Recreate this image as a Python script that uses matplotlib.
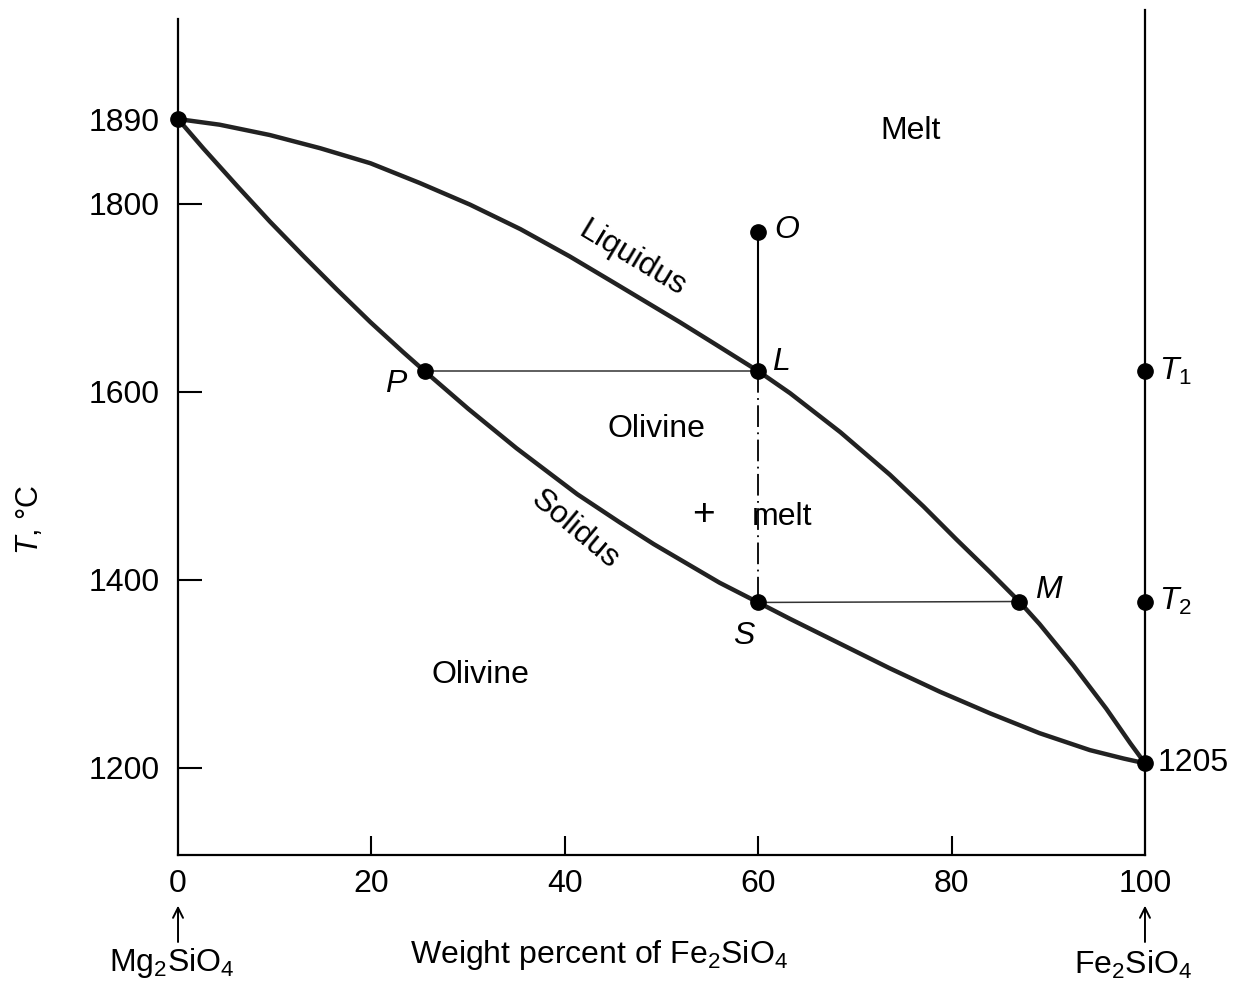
import numpy as np
from matplotlib import pyplot as plt

plt.rcParams['font.family'] = ['Liberation Sans', 'DejaVu Sans']
plt.rcParams['mathtext.fontset'] = 'custom'
plt.rcParams['mathtext.rm'] = 'Liberation Sans'
plt.rcParams['mathtext.it'] = 'Liberation Sans:italic'

# liquidus and solidus (wt% Fe2SiO4, T in C)
liq_x = [0, 4.3, 9.5, 14.7, 19.9, 25.0, 30.2, 35.4, 40.5, 45.0, 51.9, 55.5, 60,
         63.3, 68.5, 73.6, 77.1, 80.5, 84.0, 87.0, 89.1, 92.6, 96.0, 98.5, 100]
liq_t = [1890, 1884, 1873, 1859, 1843, 1822, 1799, 1773, 1744, 1716.5, 1674, 1651, 1622,
         1598.5, 1557, 1512, 1478, 1443, 1408, 1377, 1353, 1309, 1263, 1226, 1205]
sol_x = [0, 2.6, 6.1, 9.5, 13.0, 16.4, 19.9, 23.3, 25.5, 30.0, 35.0, 41.3, 45.7,
         49.2, 52.6, 56.0, 60, 63.3, 68.5, 73.6, 78.8, 84.0, 89.1, 94.3, 97.8, 100]
sol_t = [1890, 1859, 1819, 1781, 1744, 1709, 1674, 1642, 1622, 1582, 1540, 1491, 1461,
         1438, 1417.5, 1397, 1376, 1358.5, 1332, 1306, 1281, 1258, 1237, 1219, 1210, 1205]

pt_names = ['P', 'L', 'O', 'S', 'M']
pt_x = [25.5, 60, 60, 60, 87]
pt_t = [1622, 1622, 1770, 1376, 1377]
end_t = [1890, 1205]
t1, t2 = 1622, 1377

yticks = [1200, 1400, 1600, 1800, 1890]
xticks = [0, 20, 40, 60, 80, 100]

fig = plt.figure(figsize=(12.44, 9.86), dpi=100)
ax = fig.add_axes([0.1431, 0.1329, 0.7773, 0.857])
ax.set_xlim(0, 100)
ax.set_ylim(1107.5, 2006)

ax.plot(liq_x, liq_t, color='#222222', lw=3.2, solid_joinstyle='round')
ax.plot(sol_x, sol_t, color='#222222', lw=3.2, solid_joinstyle='round')

P, L, O, S, M = [dict(zip(['x', 't'], v)) for v in zip(pt_x, pt_t)]
ax.plot([P['x'], L['x']], [P['t'], L['t']], color='#333333', lw=1.1)
ax.plot([S['x'], M['x']], [S['t'], M['t']], color='#333333', lw=1.1)
ax.plot([O['x'], L['x']], [O['t'], L['t']], color='black', lw=1.5)
ax.plot([L['x'], S['x']], [L['t'], S['t']], color='black', lw=1.3,
        linestyle=(0, (12, 3, 1, 3)))

ax.plot(pt_x, pt_t, 'o', color='black', ms=11, zorder=5)
ax.plot([0, 100], end_t, 'o', color='black', ms=11, zorder=5, clip_on=False)
ax.plot([100, 100], [t1, t2], 'o', color='black', ms=11, zorder=5, clip_on=False)

# labels
lab_off = {'P': (-3.0, -14), 'L': (2.3, 10), 'O': (3.0, 2), 'S': (-1.5, -36), 'M': (3.0, 12)}
for n, x, t in zip(pt_names, pt_x, pt_t):
    dx, dt = lab_off[n]
    ax.text(x + dx, t + dt, n, fontsize=23, style='italic', ha='center', va='center')

fs = 23
ax.text(75.8, 1877, 'Melt', fontsize=fs, ha='center', va='center')
ax.text(47.0, 1741, 'Liquidus', fontsize=fs, ha='center', va='center', rotation=-31)
ax.text(41.0, 1453, 'Solidus', fontsize=fs, ha='center', va='center', rotation=-40)
ax.text(49.5, 1560, 'Olivine', fontsize=fs, ha='center', va='center')
ax.text(54.3, 1469, '+', fontsize=28, ha='center', va='center')
ax.text(62.5, 1467, 'melt', fontsize=fs, ha='center', va='center')
ax.text(31.3, 1299, 'Olivine', fontsize=fs, ha='center', va='center')

ax.text(101.5, t1, '$T_1$', fontsize=fs, ha='left', va='center', clip_on=False)
ax.text(101.5, t2, '$T_2$', fontsize=fs, ha='left', va='center', clip_on=False)
ax.text(101.3, 1205, '1205', fontsize=fs, ha='left', va='center', clip_on=False)

# axes styling
ax.spines['top'].set_visible(False)
ax.spines['left'].set_bounds(1107.5, 1996)
for s in ['left', 'bottom', 'right']:
    ax.spines[s].set_linewidth(1.6)

ax.set_yticks(yticks)
ax.set_xticks(xticks)
ax.tick_params(axis='y', direction='in', length=17, width=1.5, labelsize=fs, pad=13)
ax.tick_params(axis='x', direction='in', length=14, width=1.5, labelsize=fs, pad=10)
ax.yaxis.get_major_ticks()[-1].tick1line.set_visible(False)
for tk in [ax.xaxis.get_major_ticks()[0], ax.xaxis.get_major_ticks()[-1]]:
    tk.tick1line.set_visible(False)

tr = ax.get_xaxis_transform()
for xa in [0, 100]:
    ax.annotate('', xy=(xa, -0.060), xytext=(xa, -0.103), xycoords=tr, textcoords=tr,
                arrowprops=dict(arrowstyle='->', lw=1.4, color='black',
                                mutation_scale=18, shrinkA=0, shrinkB=0))
ax.text(-0.6, -0.128, r'Mg$_2$SiO$_4$', fontsize=fs, ha='center', va='center', transform=tr)
ax.text(98.8, -0.130, r'Fe$_2$SiO$_4$', fontsize=fs, ha='center', va='center', transform=tr)
ax.text(43.5, -0.118, r'Weight percent of Fe$_2$SiO$_4$', fontsize=fs, ha='center',
        va='center', transform=tr)
ax.text(-0.153, 0.397, r'$T$, °C', fontsize=22, rotation=90, ha='center', va='center',
        transform=ax.transAxes)

plt.savefig('out.png', dpi=100, facecolor='white')
